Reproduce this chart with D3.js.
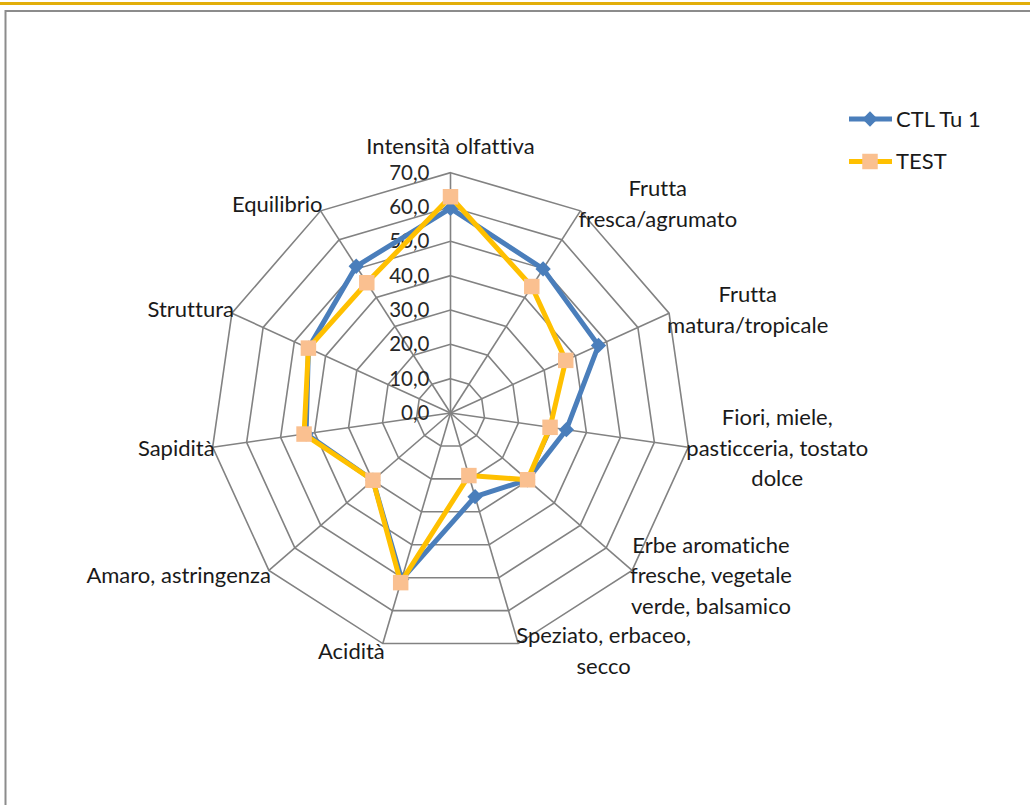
<!DOCTYPE html>
<html>
<head>
<meta charset="utf-8">
<script src="https://cdn.jsdelivr.net/npm/d3@7"></script>
<style>
  body { margin: 0; background: #fff; }
  svg { display: block; font-family: Lato, "Open Sans", sans-serif; font-variant-ligatures: none; }
</style>
</head>
<body>
<svg id="chart" width="1030" height="805"></svg>
<script>
// Categories (line breaks as in the original chart labels)
const categories = [
  ['Intensità olfattiva'],
  ['Frutta', 'fresca/agrumato'],
  ['Frutta', 'matura/tropicale'],
  ['Fiori, miele,', 'pasticceria, tostato', 'dolce'],
  ['Erbe aromatiche', 'fresche, vegetale', 'verde, balsamico'],
  ['Speziato, erbaceo,', 'secco'],
  ['Acidità'],
  ['Amaro, astringenza'],
  ['Sapidità'],
  ['Struttura'],
  ['Equilibrio'],
];

const ctlValues  = [59.6, 49.9, 47.4, 34.1, 29.7, 25.4, 50.5, 29.9, 42.5, 45.5, 50.8];
const testValues = [63.0, 43.8, 36.9, 29.3, 29.7, 19.0, 51.5, 29.9, 43.1, 45.5, 45.1];

const tickValues = [0, 10, 20, 30, 40, 50, 60, 70];
const seriesNames = ['CTL Tu 1', 'TEST'];

const width = 1030, height = 805;
const cx = 450.5, cy = 413;
const outerR = 240.3;
const fontSize = 22;
const lineH = 30.5;

const svg = d3.select('#chart');

// top accent line and chart frame
svg.append('rect').attr('x', 0).attr('y', 2).attr('width', width).attr('height', 3).attr('fill', '#e2ae0a');
svg.append('path')
  .attr('d', `M5.5,${height}V11H${width}`)
  .attr('fill', 'none').attr('stroke', '#8c8c8c').attr('stroke-width', 2);

const r = d3.scaleLinear().domain([0, 70]).range([0, outerR]);
const n = categories.length;
const angle = d3.scaleLinear().domain([0, n]).range([0, 2 * Math.PI]);

const g = svg.append('g').attr('transform', `translate(${cx},${cy})`);

// grid rings
const ring = d3.lineRadial().angle((d, i) => angle(i)).radius(d => r(d)).curve(d3.curveLinearClosed);
g.append('g').selectAll('path')
  .data(tickValues.filter(t => t > 0))
  .join('path')
  .attr('d', t => ring(d3.range(n).map(() => t)))
  .attr('fill', 'none').attr('stroke', '#828282').attr('stroke-width', 1.6);

// spokes
g.append('g').selectAll('line')
  .data(d3.range(n))
  .join('line')
  .attr('x1', 0).attr('y1', 0)
  .attr('x2', i => r(70) * Math.sin(angle(i)))
  .attr('y2', i => -r(70) * Math.cos(angle(i)))
  .attr('stroke', '#828282').attr('stroke-width', 1.6);

// tick labels
const fmt = v => d3.format('.1f')(v).replace('.', ',');
g.append('g').selectAll('text')
  .data(tickValues)
  .join('text')
  .attr('x', -21)
  .attr('y', t => -r(t) + 7)
  .attr('text-anchor', 'end')
  .attr('font-size', 20.5)
  .attr('fill', '#262626')
  .text(fmt);

// category labels
const labels = g.append('g');
categories.forEach((lines, i) => {
  const a = angle(i);
  const vx = r(70) * Math.sin(a);
  const vy = -r(70) * Math.cos(a);
  const t = labels.append('text')
    .attr('font-size', fontSize)
    .attr('fill', '#1a1a1a')
    .attr('text-anchor', 'middle');
  t.selectAll('tspan').data(lines).join('tspan').text(d => d);
  const widths = t.selectAll('tspan').nodes().map(el => el.getComputedTextLength());
  const w = d3.max(widths);
  const s = Math.sin(a);
  let x;
  if (Math.abs(s) < 0.05) x = vx;
  else if (s > 0) x = vx - 2 + w / 2;
  else x = vx + 2 - w / 2;
  let midY;
  if (i === 0) midY = vy - 26 - (lines.length - 1) * lineH / 2;
  else midY = vy - Math.cos(a) * 8;
  t.selectAll('tspan')
    .attr('x', x)
    .attr('y', (d, k) => midY + (k - (lines.length - 1) / 2) * lineH + 7.5);
});

// series
const series = [
  { name: seriesNames[0], values: ctlValues, stroke: '#4a7ebb', marker: 'diamond', fill: '#4a7ebb' },
  { name: seriesNames[1], values: testValues, stroke: '#ffc000', marker: 'square', fill: '#fac090' },
];

const dataLine = d3.lineRadial().angle((d, i) => angle(i)).radius(d => r(d)).curve(d3.curveLinearClosed);
const sym = { diamond: d3.symbol(d3.symbolDiamond2, 150), square: d3.symbol(d3.symbolSquare, 240) };

series.forEach(s => {
  const sg = g.append('g');
  sg.append('path')
    .attr('d', dataLine(s.values))
    .attr('fill', 'none').attr('stroke', s.stroke).attr('stroke-width', 5)
    .attr('stroke-linejoin', 'round');
  sg.selectAll('path.marker')
    .data(s.values)
    .join('path')
    .attr('class', 'marker')
    .attr('d', sym[s.marker]())
    .attr('transform', (d, i) => `translate(${r(d) * Math.sin(angle(i))},${-r(d) * Math.cos(angle(i))})`)
    .attr('fill', s.fill);
});

// legend
const legend = svg.append('g').attr('transform', 'translate(849,119)');
const items = legend.selectAll('g').data(series).join('g')
  .attr('transform', (d, i) => `translate(0,${i * 42.5})`);
items.append('line').attr('x1', 0).attr('x2', 43).attr('y1', 0).attr('y2', 0)
  .attr('stroke', d => d.stroke).attr('stroke-width', 5);
items.append('path')
  .attr('d', d => sym[d.marker]())
  .attr('transform', 'translate(21,0)')
  .attr('fill', d => d.fill);
items.append('text')
  .attr('x', 47).attr('y', 7.5)
  .attr('font-size', fontSize).attr('fill', '#1a1a1a')
  .text(d => d.name);
</script>
</body>
</html>
